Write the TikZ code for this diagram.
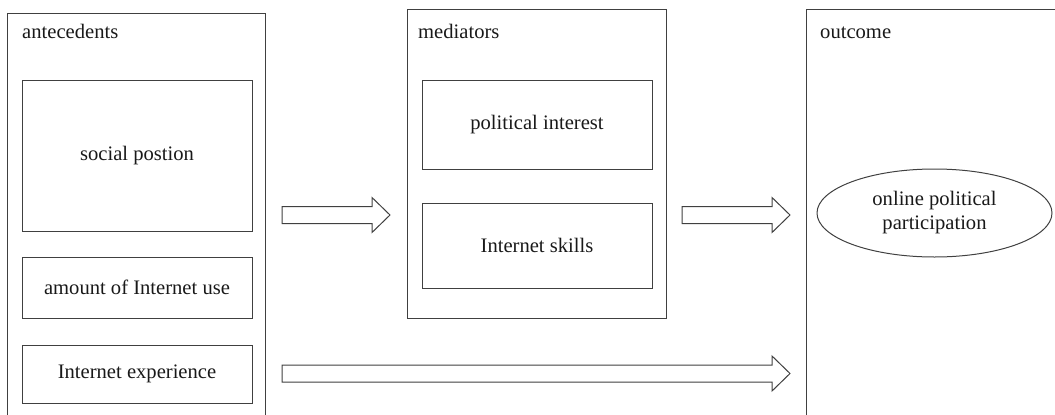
\documentclass[tikz,border=0pt]{standalone}
\usepackage{fontspec}
\setmainfont{Liberation Serif}
\usetikzlibrary{shapes.geometric,calc}
\begin{document}
\begin{tikzpicture}[x=1pt,y=-1pt,
  ln/.style={draw=black!75,line width=1pt},
  txt/.style={font=\fontsize{20.6}{24}\selectfont,text=black!90,inner sep=0pt},
  blockarrow/.style={ln,fill=white,line join=miter}]
\useasboundingbox (0,0) rectangle (1055,415);
% group frames (open at the bottom / right edge)
\draw[ln] (7,420) -- (7,13) -- (265,13) -- (265,420);
\draw[ln] (407,9) rectangle (666,318);
\draw[ln] (806,420) -- (806,9.5) -- (1060,9.5);
% group labels
\node[txt,anchor=base west] (lA) at (22,38) {antecedents};
\node[txt,anchor=base west] (lM) at (418,38) {mediators};
\node[txt,anchor=base west] (lO) at (820,38) {outcome};
% inner boxes
\node[ln,txt,minimum width=230,minimum height=151] (soc) at (137,155.5) {social postion};
\node[ln,txt,minimum width=230,minimum height=61] (amt) at (137,287.5) {amount of Internet use};
\node[ln,txt,minimum width=230,minimum height=58] (exp) at (137,374) {Internet experience};
\node[ln,txt,minimum width=230,minimum height=89] (pol) at (537,124.5) {political interest};
\node[ln,txt,minimum width=230,minimum height=85] (skl) at (537,245.5) {Internet skills};
\node[ln,txt,ellipse,minimum width=235,minimum height=88,align=center] (opp) at (934.5,213) {online political\\participation};
% block arrows
\coordinate (a1s) at (282,215);
\coordinate (a1e) at (390,215);
\coordinate (a2s) at (682,215);
\coordinate (a2e) at (790,215);
\coordinate (a3s) at (282,373.5);
\coordinate (a3e) at (790,373.5);
\draw[blockarrow] ($(a1s)+(0,-8.5)$) -- ($(a1e)+(-18,-8.5)$) -- ($(a1e)+(-18,-17.5)$) -- (a1e) -- ($(a1e)+(-18,17.5)$) -- ($(a1e)+(-18,8.5)$) -- ($(a1s)+(0,8.5)$) -- cycle;
\draw[blockarrow] ($(a2s)+(0,-8.5)$) -- ($(a2e)+(-18,-8.5)$) -- ($(a2e)+(-18,-17.5)$) -- (a2e) -- ($(a2e)+(-18,17.5)$) -- ($(a2e)+(-18,8.5)$) -- ($(a2s)+(0,8.5)$) -- cycle;
\draw[blockarrow] ($(a3s)+(0,-8.5)$) -- ($(a3e)+(-18,-8.5)$) -- ($(a3e)+(-18,-17.5)$) -- (a3e) -- ($(a3e)+(-18,17.5)$) -- ($(a3e)+(-18,8.5)$) -- ($(a3s)+(0,8.5)$) -- cycle;
\end{tikzpicture}
\end{document}
